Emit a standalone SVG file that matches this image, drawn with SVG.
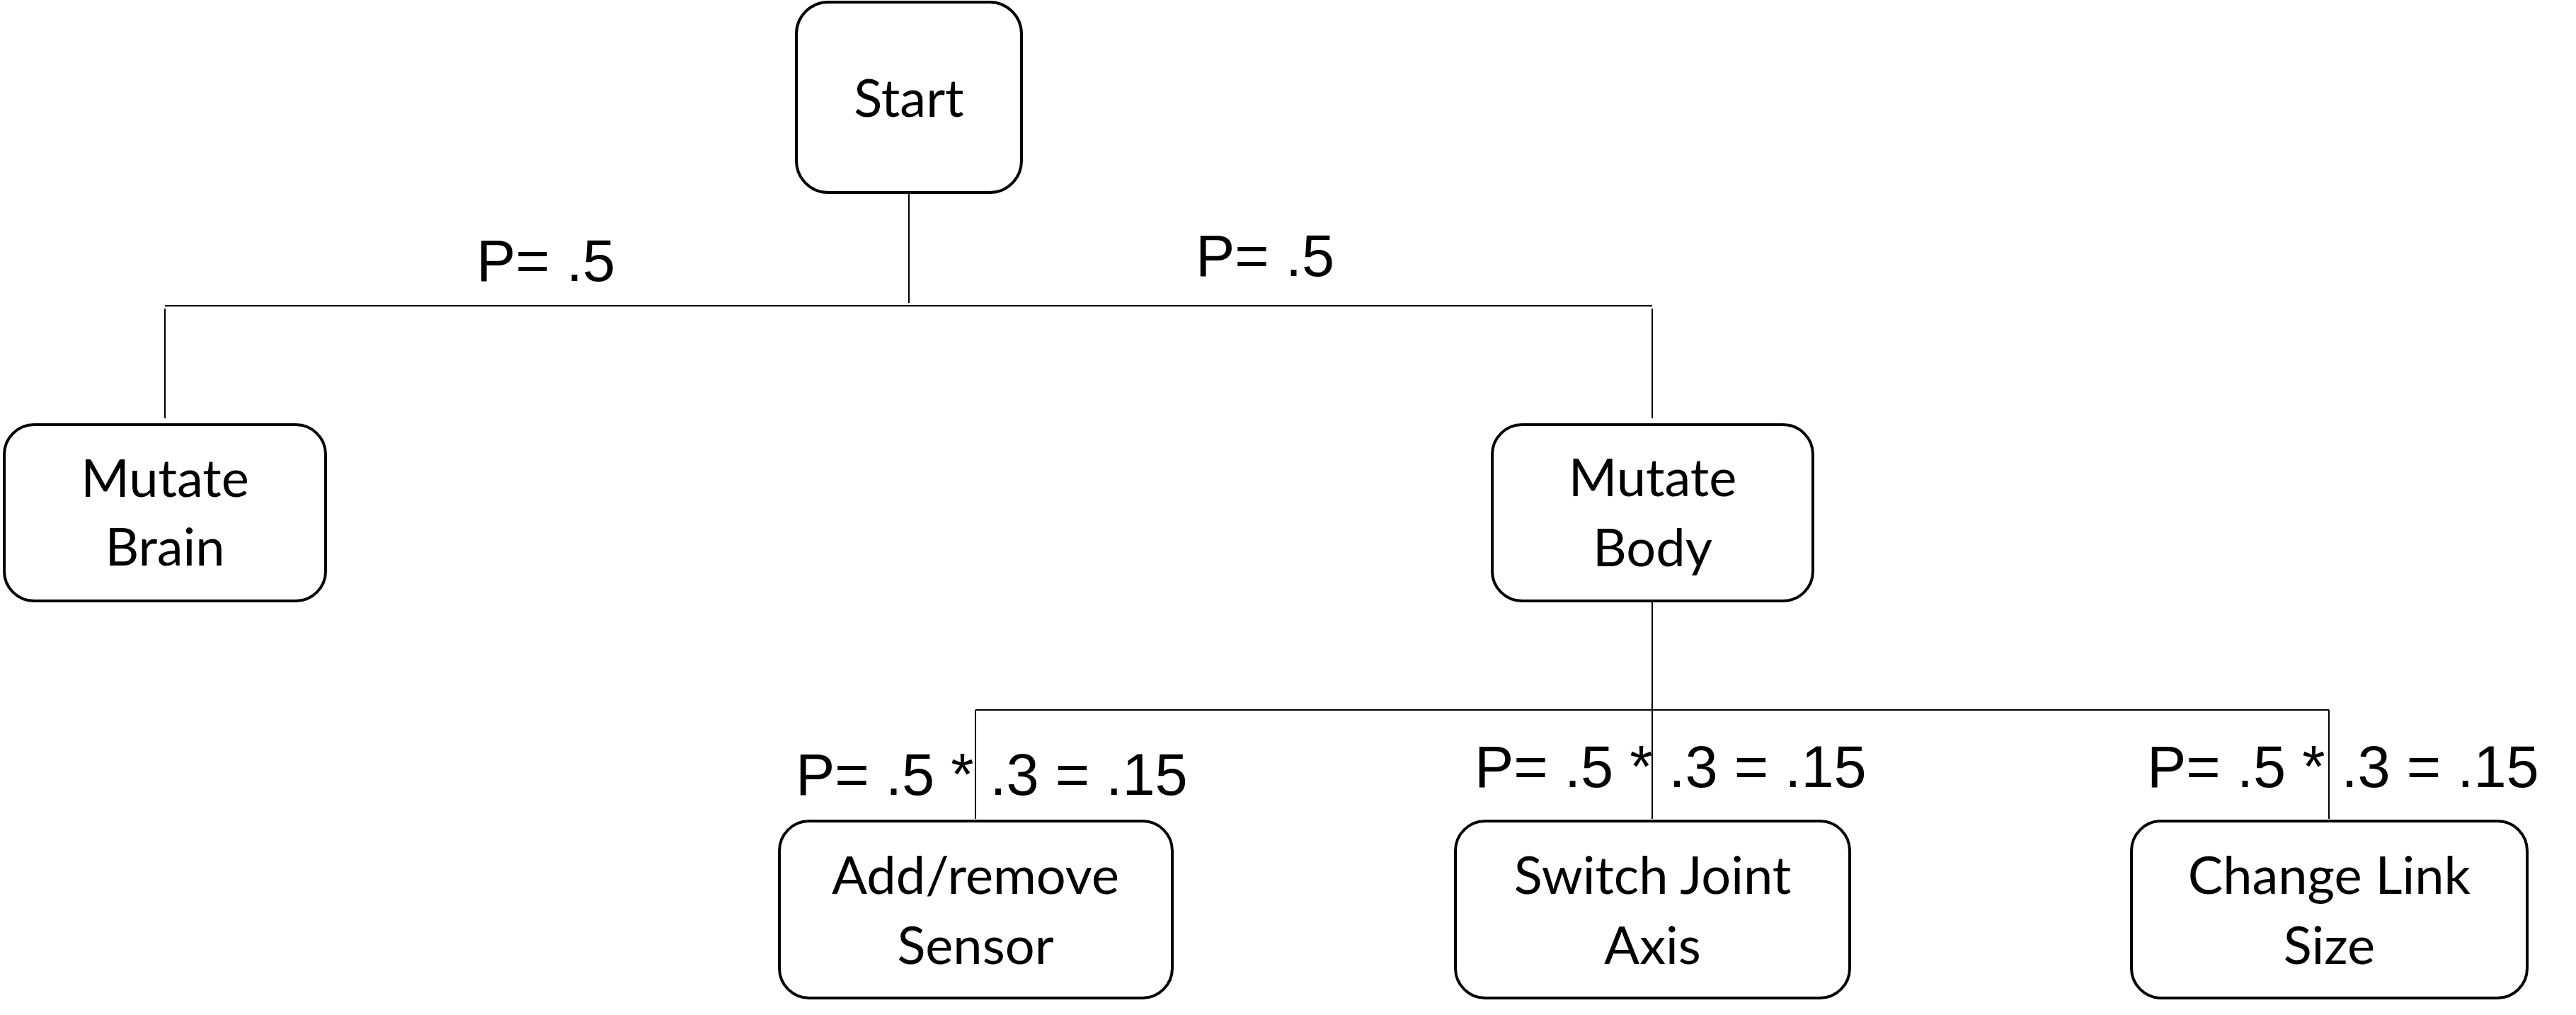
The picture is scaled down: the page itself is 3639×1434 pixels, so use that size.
<svg xmlns="http://www.w3.org/2000/svg" width="3639" height="1434" viewBox="0 0 3639 1434">
<style>
.box{fill:#fff;stroke:#000;stroke-width:4}
.node{font-family:Lato,"Open Sans",sans-serif;font-size:74px;fill:#000;text-anchor:middle}
.lbl{font-family:"Liberation Sans",Arial,sans-serif;font-size:83px;fill:#000}
.con{fill:none;stroke:#000;stroke-width:2}
</style>
<rect width="3639" height="1434" fill="#fff"/>
<g id="connectors">
<path class="con" d="M1284 274V428"/>
<path class="con" d="M233 432H2334"/>
<path class="con" d="M233 436V591"/>
<path class="con" d="M2334 436V591"/>
<path class="con" d="M2334 851V1157"/>
<path class="con" d="M1378 1003H3290"/>
<path class="con" d="M1378 1003V1157"/>
<path class="con" d="M3290 1003V1157"/>
</g>
<g id="labels">
<text class="lbl" x="673" y="397">P= .5</text>
<text class="lbl" x="1689" y="390">P= .5</text>
<text class="lbl" x="1124" y="1123">P= .5 * .3 = .15</text>
<text class="lbl" x="2083" y="1112">P= .5 * .3 = .15</text>
<text class="lbl" x="3033" y="1112">P= .5 * .3 = .15</text>
</g>
<g id="start">
<rect class="box" x="1125" y="3" width="318" height="269" rx="45"/>
<text class="node" x="1284" y="165">Start</text>
</g>
<g id="mutate-brain">
<rect class="box" x="6" y="600" width="454" height="249" rx="42"/>
<text class="node" x="233" y="702">Mutate</text>
<text class="node" x="233" y="799">Brain</text>
</g>
<g id="mutate-body">
<rect class="box" x="2108" y="600" width="453" height="249" rx="42"/>
<text class="node" x="2334.5" y="701">Mutate</text>
<text class="node" x="2334.5" y="800">Body</text>
</g>
<g id="add-remove-sensor">
<rect class="box" x="1101" y="1160" width="555" height="250" rx="42"/>
<text class="node" x="1378" y="1263">Add/remove</text>
<text class="node" x="1378" y="1362">Sensor</text>
</g>
<g id="switch-joint-axis">
<rect class="box" x="2056" y="1160" width="557" height="250" rx="42"/>
<text class="node" x="2334.5" y="1263">Switch Joint</text>
<text class="node" x="2334.5" y="1362">Axis</text>
</g>
<g id="change-link-size">
<rect class="box" x="3011" y="1160" width="559" height="250" rx="42"/>
<text class="node" x="3290.5" y="1263">Change Link</text>
<text class="node" x="3290.5" y="1362">Size</text>
</g>
</svg>
